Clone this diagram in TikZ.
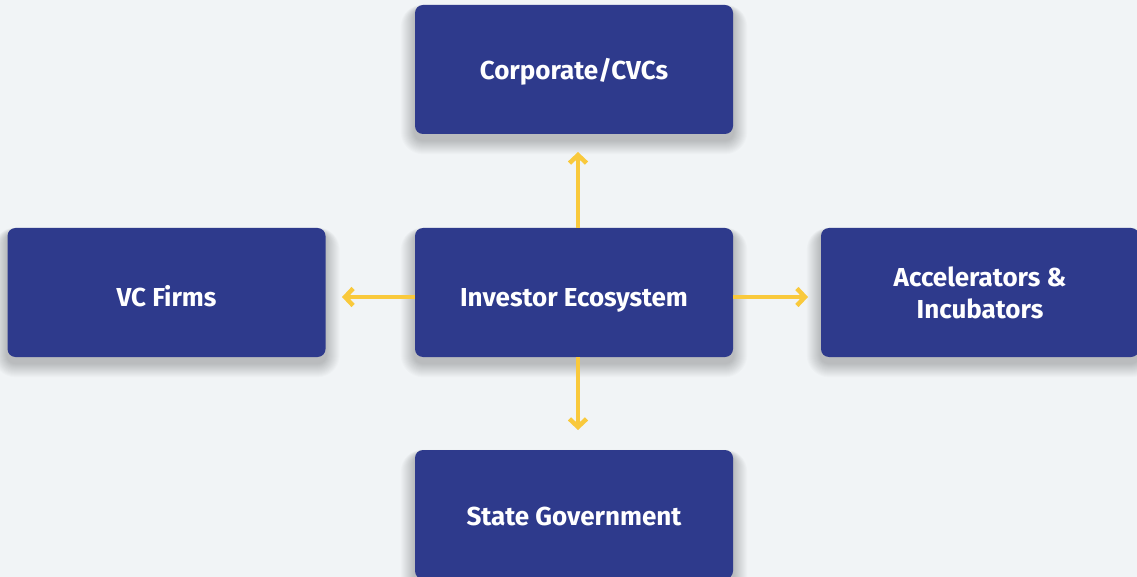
\documentclass[tikz,border=0pt]{standalone}
\usepackage{fontspec}
\setmainfont{Fira Sans}
\usetikzlibrary{arrows.meta,backgrounds}
\definecolor{bgc}{HTML}{F1F4F6}
\definecolor{boxc}{HTML}{2E3A8C}
\definecolor{arrc}{HTML}{F9C93C}
\tikzset{
  ebox/.style={fill=boxc, draw=none, rounded corners=8pt, minimum width=318pt, minimum height=129pt,
    inner sep=0pt, text=white, font=\fontsize{26}{32}\selectfont\bfseries, align=center},
  lowtext/.style={text height=#1, text depth=0pt},
  earr/.style={draw=arrc, line width=4.5pt, -{Straight Barb[length=8pt,width=17pt,line width=4.5pt]}}
}
\newcommand{\eshadow}[1]{%
  \begin{scope}[on background layer]
  \foreach \k in {1,...,14}{
    \fill[black, opacity=0.016, rounded corners=8pt+\k pt]
      ([xshift=-\k pt, yshift=-4pt+\k pt*0.3]#1.north west) rectangle ([xshift=\k pt, yshift=-6pt-\k pt]#1.south east);
  }
  \end{scope}}
\begin{document}
\begin{tikzpicture}[x=1pt,y=-1pt]
\useasboundingbox (0,0) rectangle (1137,577);
\node[ebox, lowtext=21pt] (top) at (574,69.5) {Corporate/CVCs};
\node[ebox, lowtext=28pt] (ctr) at (574,292.5) {Investor Ecosystem};
\node[ebox, lowtext=28pt] (lft) at (166.5,292.5) {VC Firms};
\node[ebox] (rgt) at (980,292.5) {Accelerators \&\\Incubators};
\node[ebox, lowtext=21pt] (bot) at (574,514.5) {State Government};
\begin{scope}[on background layer]
\fill[bgc] (0,0) rectangle (1137,577);
\end{scope}
\eshadow{top}\eshadow{ctr}\eshadow{lft}\eshadow{rgt}\eshadow{bot}
\coordinate (tu) at (578,152);
\coordinate (tl) at (342,297);
\coordinate (tr) at (808,297);
\coordinate (td) at (578,430);
\draw[earr] (ctr.north -| tu) -- (tu);
\draw[earr] (ctr.west |- tl) -- (tl);
\draw[earr] (ctr.east |- tr) -- (tr);
\draw[earr] (ctr.south -| td) -- (td);
\end{tikzpicture}
\end{document}
